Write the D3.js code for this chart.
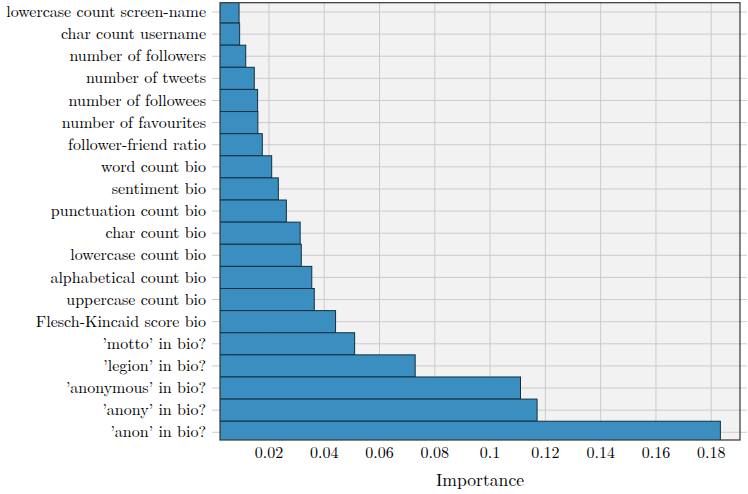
<!DOCTYPE html>
<html>
<head>
<meta charset="utf-8">
<script src="https://cdn.jsdelivr.net/npm/d3@7"></script>
<style>
  body { margin: 0; background: #fff; }
  svg text { font-family: "Latin Modern Roman", "Liberation Serif", serif !important; }
</style>
</head>
<body>
<script>
// feature names, top to bottom
var features = [
  "lowercase count screen-name", "char count username", "number of followers",
  "number of tweets", "number of followees", "number of favourites",
  "follower-friend ratio", "word count bio", "sentiment bio",
  "punctuation count bio", "char count bio", "lowercase count bio",
  "alphabetical count bio", "uppercase count bio", "Flesch-Kincaid score bio",
  "\u2019motto\u2019 in bio?", "\u2019legion\u2019 in bio?", "\u2019anonymous\u2019 in bio?",
  "\u2019anony\u2019 in bio?", "\u2019anon\u2019 in bio?"
];
var importance = [
  0.0092, 0.0094, 0.0116, 0.0147, 0.0159, 0.0160, 0.0176, 0.0210, 0.0234,
  0.0263, 0.0313, 0.0317, 0.0355, 0.0364, 0.0441, 0.0510, 0.0729, 0.1110,
  0.1170, 0.1833
];
var xTicks = [0.02, 0.04, 0.06, 0.08, 0.1, 0.12, 0.14, 0.16, 0.18];

var margin = {left: 220, right: 740, top: 2.7, bottom: 440};
var width = 748, height = 494;

var x = d3.scaleLinear()
        .domain([0.0023, 0.1904])
        .range([margin.left, margin.right]);

// bars are full-width bands, axis limits cut the outer two a little
var step = 22.12;
var y = d3.scaleBand()
        .domain(features)
        .range([12 - step / 2, 12 - step / 2 + step * features.length])
        .padding(0);

var svg = d3.select("body").append("svg")
        .attr("width", width)
        .attr("height", height);

svg.append("defs").append("clipPath")
        .attr("id", "plot-clip")
        .append("rect")
        .attr("x", margin.left).attr("y", margin.top)
        .attr("width", margin.right - margin.left)
        .attr("height", margin.bottom - margin.top);

svg.append("rect")
        .attr("x", margin.left).attr("y", margin.top)
        .attr("width", margin.right - margin.left)
        .attr("height", margin.bottom - margin.top)
        .attr("fill", "#f2f2f2");

// vertical grid
svg.append("g")
        .selectAll("line")
        .data(xTicks)
        .enter().append("line")
        .attr("x1", function(d) { return x(d); })
        .attr("x2", function(d) { return x(d); })
        .attr("y1", margin.top).attr("y2", margin.bottom)
        .attr("stroke", "#cbcbcb")
        .attr("stroke-width", 1);

// horizontal grid + ticks (run past the frame on both sides)
svg.append("g")
        .selectAll("line")
        .data(features)
        .enter().append("line")
        .attr("x1", 212).attr("x2", 747)
        .attr("y1", function(d) { return y(d) + y.bandwidth() / 2; })
        .attr("y2", function(d) { return y(d) + y.bandwidth() / 2; })
        .attr("stroke", "#cbcbcb")
        .attr("stroke-width", 1);

svg.append("g")
        .attr("clip-path", "url(#plot-clip)")
        .selectAll("rect")
        .data(importance)
        .enter().append("rect")
        .attr("x", x(0.0023) - 2)
        .attr("y", function(d, i) { return y(features[i]); })
        .attr("width", function(d) { return x(d) - x(0.0023) + 2; })
        .attr("height", y.bandwidth())
        .attr("fill", "#3b8fc0")
        .attr("stroke", "#12303f")
        .attr("stroke-width", 1);

// frame
svg.append("rect")
        .attr("x", margin.left).attr("y", margin.top)
        .attr("width", margin.right - margin.left)
        .attr("height", margin.bottom - margin.top)
        .attr("fill", "none")
        .attr("stroke", "#333")
        .attr("stroke-width", 1.2);

// y labels
svg.append("g")
        .selectAll("text")
        .data(features)
        .enter().append("text")
        .attr("x", 206)
        .attr("y", function(d) { return y(d) + y.bandwidth() / 2; })
        .attr("dy", "0.32em")
        .attr("text-anchor", "end")
        .attr("font-size", 16)
        .attr("fill", "#000")
        .text(function(d) { return d; });

// x labels
svg.append("g")
        .selectAll("text")
        .data(xTicks)
        .enter().append("text")
        .attr("x", function(d) { return x(d); })
        .attr("y", 453)
        .attr("dy", "0.32em")
        .attr("text-anchor", "middle")
        .attr("font-size", 16)
        .attr("fill", "#000")
        .text(function(d) { return d; });

svg.append("text")
        .attr("x", (margin.left + margin.right) / 2)
        .attr("y", 480)
        .attr("dy", "0.32em")
        .attr("text-anchor", "middle")
        .attr("font-size", 17.6)
        .attr("fill", "#000")
        .text("Importance");
</script>
</body>
</html>
